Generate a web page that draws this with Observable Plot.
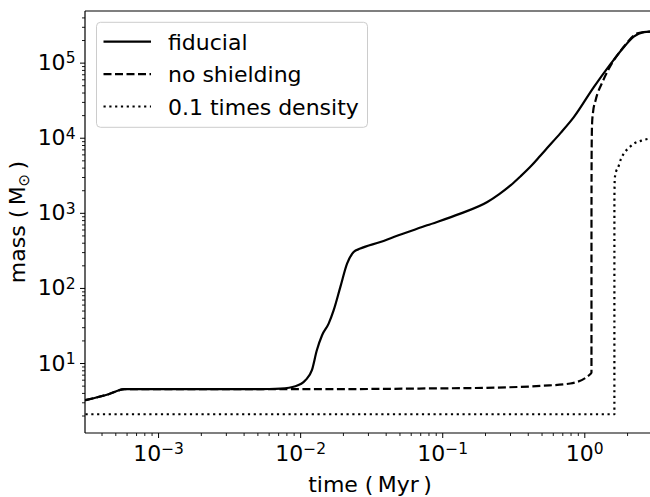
<!DOCTYPE html>
<html>
<head>
<meta charset="utf-8">
<script src="https://cdn.jsdelivr.net/npm/d3@7"></script>
<script src="https://cdn.jsdelivr.net/npm/@observablehq/plot@0.6"></script>
<style>
  body { margin: 0; background: #fff; }
  #chart svg { display: block; }
</style>
</head>
<body>
<div id="chart"></div>
<script>
// ---- data ----
const seriesNames = ["fiducial", "no shielding", "0.1 times density"];

const fiducialTime = [3.06e-4, 4.45e-4, 5.77e-4, 1.5e-3, 4e-3, 6e-3, 7.2e-3, 9.18e-3, 0.0108, 0.012, 0.013, 0.01415, 0.01574, 0.01706, 0.01904, 0.02122, 0.0236, 0.0263, 0.0364, 0.0452, 0.0776, 0.133, 0.206, 0.25, 0.30, 0.352, 0.42, 0.488, 0.543, 0.674, 0.837, 1.157, 1.52, 1.88, 2.21, 2.6, 2.9];
const fiducialMass = [3.25, 3.9, 4.55, 4.55, 4.56, 4.58, 4.64, 4.99, 6.0, 8.15, 15.0, 23.8, 34, 51, 105, 214, 305, 339, 415, 484, 692, 991, 1413, 1800, 2350, 3100, 4300, 5900, 7400, 11700, 19100, 47900, 97700, 163000, 226000, 259000, 263000];

const noShieldTime = [3.06e-4, 4.45e-4, 5.77e-4, 3e-3, 0.01, 0.03, 0.064, 0.245, 0.5, 0.79, 1.10, 1.114, 1.1145, 1.118, 1.125, 1.142, 1.19, 1.33, 1.476, 1.88, 2.2, 2.35, 2.6, 2.9];
const noShieldMass = [3.25, 3.9, 4.55, 4.55, 4.55, 4.58, 4.64, 4.79, 5.05, 5.42, 7.3, 7.6, 1000, 8000, 15600, 22000, 31900, 55800, 84100, 165000, 230000, 250000, 259000, 263000];

const lowDensTime = [3.06e-4, 1.615, 1.6155, 1.625, 1.66, 1.71, 1.79, 1.88, 2.05, 2.21, 2.5, 2.9];
const lowDensMass = [2.11, 2.11, 1500, 2900, 3600, 4000, 5200, 6220, 7500, 8450, 9300, 9950];

const xMajorTicks = [1e-3, 1e-2, 1e-1, 1];
const xTickLabels = ["10^\u22123", "10^\u22122", "10^\u22121", "10^0"];
const yMajorTicks = [1e1, 1e2, 1e3, 1e4, 1e5];
const yTickLabels = ["10^1", "10^2", "10^3", "10^4", "10^5"];

const xDomain = [3.06e-4, 2.9];
const yDomain = [1.17, 4.87e5];

// ---- build ----
const styles = [
  {dash: null},
  {dash: "8,3.5"},
  {dash: "2.2,3.6"}
];
const seriesData = [
  [fiducialTime, fiducialMass],
  [noShieldTime, noShieldMass],
  [lowDensTime, lowDensMass]
];
const rows = seriesData.map(([t, m], k) => t.map((v, i) => ({series: seriesNames[k], time: v, mass: m[i]})));

function minorTicks(domain) {
  const out = [];
  const lo = Math.floor(Math.log10(domain[0])), hi = Math.ceil(Math.log10(domain[1]));
  for (let e = lo; e <= hi; e++) for (let k = 2; k <= 9; k++) {
    const v = k * Math.pow(10, e);
    if (v >= domain[0] && v <= domain[1]) out.push(v);
  }
  return out;
}

const FONT = "DejaVu Sans";
const chart = Plot.plot({
  width: 650,
  height: 497,
  marginLeft: 85,
  marginRight: 0,
  marginTop: 11,
  marginBottom: 64,
  style: {fontFamily: FONT, fontSize: "22px", color: "black", background: "white", overflow: "visible"},
  x: {type: "log", domain: xDomain},
  y: {type: "log", domain: yDomain},
  marks: [
    Plot.axisX({ticks: minorTicks(xDomain), tickSize: 3, tickFormat: () => "", label: null, strokeWidth: 0.9}),
    Plot.axisX({ticks: xMajorTicks, tickSize: 5, tickPadding: 7, tickFormat: d => xTickLabels[xMajorTicks.indexOf(d)], label: null, strokeWidth: 1}),
    Plot.axisY({ticks: minorTicks(yDomain), tickSize: 3, tickFormat: () => "", label: null, strokeWidth: 0.9}),
    Plot.axisY({ticks: yMajorTicks, tickSize: 5, tickPadding: 5, tickFormat: d => yTickLabels[yMajorTicks.indexOf(d)], label: null, strokeWidth: 1}),
    ...rows.map((r, k) => Plot.line(r, {
      x: "time", y: "mass", stroke: "black", strokeWidth: 2.2,
      strokeDasharray: styles[k].dash, strokeLinecap: k === 0 ? "round" : "butt",
      curve: "monotone-x", clip: true
    }))
  ]
});

document.getElementById("chart").appendChild(chart);

const svg = d3.select(chart);

// superscript exponents in tick labels
svg.selectAll("text").each(function() {
  const s = this.textContent;
  if (!s || s.indexOf("^") < 0) return;
  const [base, sup] = s.split("^");
  const t = d3.select(this);
  t.text(null);
  t.append("tspan").text(base);
  t.append("tspan").attr("font-size", 15.5).attr("dy", -6.7).text(sup);
});

// ---- spines, labels, legend ----
const [x0, x1] = chart.scale("x").range;
const [yb, yt] = chart.scale("y").range;
svg.append("path")
  .attr("d", `M${x0},${yt}H${x1}M${x0},${yt}V${yb}M${x0},${yb}H${x1}`)
  .attr("fill", "none").attr("stroke", "black").attr("stroke-width", 1.2);

svg.append("text")
  .attr("x", x0 + 285).attr("y", 492)
  .attr("text-anchor", "middle")
  .attr("font-family", FONT).attr("font-size", 22).attr("fill", "black")
  .text("time (\u2009Myr\u2009)");

const yl = svg.append("text")
  .attr("transform", `translate(25,${(yb + yt) / 2}) rotate(-90)`)
  .attr("text-anchor", "middle")
  .attr("font-family", FONT).attr("font-size", 22).attr("fill", "black");
yl.append("tspan").text("mass (\u2009M");
yl.append("tspan").attr("font-size", 15).attr("dy", 4).text("\u2299");
yl.append("tspan").attr("dy", -4).text("\u2009)");

const lg = svg.append("g").attr("transform", `translate(${x0 + 11.5},${yt + 11.3})`);
lg.append("rect")
  .attr("width", 271).attr("height", 105).attr("rx", 4)
  .attr("fill", "white").attr("fill-opacity", 0.8)
  .attr("stroke", "#cccccc").attr("stroke-width", 1);
seriesNames.forEach((name, i) => {
  const ly = 19.4 + i * 32.4;
  lg.append("line")
    .attr("x1", 7).attr("x2", 54.5).attr("y1", ly).attr("y2", ly)
    .attr("stroke", "black").attr("stroke-width", 2.2)
    .attr("stroke-dasharray", styles[i].dash)
    .attr("stroke-linecap", "butt");
  lg.append("text")
    .attr("x", 71.5).attr("y", ly + 8.3)
    .attr("text-anchor", "start")
    .attr("font-family", FONT).attr("font-size", 22).attr("fill", "black")
    .text(name);
});
</script>
</body>
</html>
